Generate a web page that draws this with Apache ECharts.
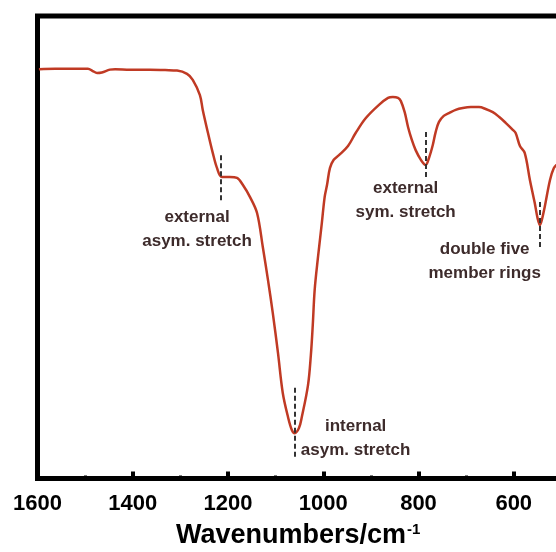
<!DOCTYPE html>
<html>
<head>
<meta charset="utf-8">
<script src="https://cdn.jsdelivr.net/npm/echarts@6/dist/echarts.min.js"></script>
<style>
  html, body { margin: 0; padding: 0; background: #fff; }
  #chart { width: 556px; height: 552px; }
</style>
</head>
<body>
<div id="chart"></div>
<script>
// FTIR spectrum, transmittance (arbitrary units) vs wavenumber
var wavenumbers = [1597, 1563, 1532, 1494, 1484, 1475, 1465, 1448, 1437, 1406, 1364, 1332, 1307,
  1286, 1274, 1259, 1253, 1242, 1232, 1223, 1213, 1196, 1181, 1169, 1154, 1139, 1127, 1116,
  1106, 1095, 1085, 1074, 1066, 1060, 1051, 1045, 1032, 1026, 1022, 1018, 1011, 1003, 997,
  992, 986, 978, 967, 948, 932, 911, 883, 864, 854, 843, 837, 829, 822, 814, 806, 795, 785,
  778, 770, 764, 757, 747, 736, 722, 707, 690, 673, 659, 644, 631, 617, 602, 596, 587, 577,
  566, 556, 550, 545, 541, 535, 524, 516, 508, 502];
var transmittance = [88.5, 88.6, 88.6, 88.6, 88.1, 87.7, 87.8, 88.4, 88.5, 88.4, 88.4, 88.3, 88.2,
  87.5, 86.2, 82.9, 79.7, 74.7, 70.4, 67.1, 65.2, 65.2, 65.0, 63.5, 60.9, 57.4, 50.1, 42.9,
  35.8, 27.1, 18.5, 13.3, 10.5, 9.8, 10.9, 13.3, 20.2, 26.7, 33.2, 40.8, 47.9, 55.2, 60.9,
  63.5, 67.1, 68.9, 69.9, 71.9, 74.7, 77.9, 80.8, 82.3, 82.5, 82.3, 81.6, 79.2, 76.0, 73.2,
  71.0, 68.9, 67.8, 69.3, 72.1, 74.9, 77.1, 78.4, 79.0, 79.7, 80.1, 80.3, 80.3, 79.9, 79.2,
  78.2, 76.9, 75.4, 74.7, 71.9, 70.4, 64.5, 59.6, 56.3, 54.8, 55.9, 58.7, 64.5, 67.1, 68.0, 68.5];

// band markers (dashed lines): wavenumber, top, bottom
var bandWn = [1215, 785, 1060, 545];
var bandTop = [69.9, 74.9, 19.6, 59.8];
var bandBottom = [59.8, 65.0, 4.4, 49.4];

// band labels
var labelText = ['external\nasym. stretch', 'external\nsym. stretch', 'internal\nasym. stretch', 'double five\nmember rings'];
var labelWn = [1265, 827, 932, 661];
var labelY = [53.8, 60.1, 8.6, 46.9];

var lineColor = '#c03a24';
var textColor = '#3d2b2b';

var chart = echarts.init(document.getElementById('chart'), null, { renderer: 'canvas' });

var spectrum = wavenumbers.map(function(w, i) { return [w, transmittance[i]]; });
var markers = bandWn.map(function(w, i) {
  return [{ coord: [w, bandTop[i]] }, { coord: [w, bandBottom[i]] }];
});
var labels = labelText.map(function(t, i) {
  return { name: t, value: [labelWn[i], labelY[i]] };
});

chart.setOption({
  animation: false,
  grid: {
    show: true, left: 37.5, right: -53, top: 16, bottom: 73.5,
    outerBoundsMode: 'none', containLabel: false,
    borderColor: '#000', borderWidth: 5, backgroundColor: 'transparent'
  },
  xAxis: {
    type: 'value', min: 400, max: 1600, interval: 200, inverse: true,
    axisLine: { show: false },
    axisTick: { inside: true, length: 7, lineStyle: { color: '#000', width: 4 } },
    minorTick: { show: true, splitNumber: 2, length: 3, lineStyle: { color: '#000', width: 3 } },
    splitLine: { show: false },
    axisLabel: {
      margin: 14, color: '#000', fontSize: 22, fontWeight: 'bold', fontFamily: 'Liberation Sans',
      formatter: function(v) { return String(v); }
    },
    name: '{a|Wavenumbers/cm}{b|-1}',
    nameLocation: 'middle',
    nameGap: 44,
    nameTextStyle: {
      padding: [0, 50, 0, 0],
      rich: {
        a: { fontSize: 27, fontWeight: 'bold', color: '#000', fontFamily: 'Liberation Sans' },
        b: { fontSize: 15, fontWeight: 'bold', color: '#000', fontFamily: 'Liberation Sans', verticalAlign: 'top', padding: [0, 0, 12, 1] }
      }
    }
  },
  yAxis: {
    type: 'value', min: 0, max: 100,
    axisLine: { show: false }, axisTick: { show: false },
    axisLabel: { show: false }, splitLine: { show: false }
  },
  series: [
    {
      type: 'line',
      data: spectrum,
      showSymbol: false,
      smooth: 0.35,
      lineStyle: { color: lineColor, width: 2.5 },
      markLine: {
        silent: true,
        symbol: 'none',
        label: { show: false },
        lineStyle: { color: '#333', width: 2, type: [5, 3] },
        data: markers
      }
    },
    {
      type: 'scatter',
      data: labels,
      symbolSize: 0,
      silent: true,
      itemStyle: { opacity: 1 },
      label: {
        show: true, position: 'inside', formatter: '{b}',
        color: textColor, fontSize: 17, fontWeight: 'bold', lineHeight: 24,
        fontFamily: 'Liberation Sans', align: 'center', verticalAlign: 'middle'
      }
    }
  ]
});
window.addEventListener('resize', function() { chart.resize(); });
</script>
</body>
</html>
